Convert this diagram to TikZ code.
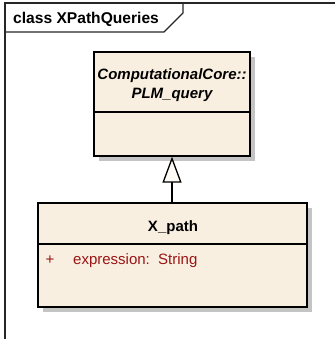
\documentclass[tikz,border=0pt]{standalone}
\usepackage{fontspec}
\setmainfont{Liberation Sans}
\usetikzlibrary{arrows.meta}
\definecolor{classfill}{RGB}{249,239,225}
\definecolor{attrred}{RGB}{153,20,20}
\definecolor{shadowgray}{RGB}{196,196,196}
\begin{document}
\begin{tikzpicture}[x=1bp,y=-1bp,
  txt/.style={inner sep=0pt, font=\fontsize{15bp}{18bp}\selectfont},
  classbox/.style={draw=black, line width=1.3bp, fill=classfill, inner sep=0pt},
  frameline/.style={draw=black!85, line width=1.1bp},
  shadowbox/.style={fill=shadowgray}
]
\useasboundingbox (0,0) rectangle (335,339);
% frame
\draw[frameline] (5,345) -- (5,3) -- (340,3);
\draw[frameline] (5,32) -- (164,32) -- (183,13) -- (183,3);
\node[txt, anchor=base west, font=\fontsize{15.6bp}{18bp}\selectfont\bfseries] (title) at (13,23.3) {class XPathQueries};
% shadows
\fill[shadowbox] (99,57) rectangle (255,161);
\fill[shadowbox] (43,208) rectangle (312,312);
% upper class
\node[classbox, minimum width=156bp, minimum height=104bp] (core) at (172,104) {};
\draw[line width=1.3bp] (94,112) -- (250,112);
\node[txt, anchor=base, font=\fontsize{15bp}{18bp}\selectfont\bfseries\itshape] (coreA) at (172,79.5) {ComputationalCore::};
\node[txt, anchor=base, font=\fontsize{15bp}{18bp}\selectfont\bfseries\itshape] (coreB) at (172,98.3) {PLM\_query};
% lower class
\node[classbox, minimum width=269bp, minimum height=104bp] (xp) at (172.5,255) {};
\draw[line width=1.3bp] (38,244) -- (307,244);
\node[txt, anchor=base, font=\fontsize{15bp}{18bp}\selectfont\bfseries] (xpname) at (173,231) {X\_path};
\node[txt, anchor=base west, text=attrred] (plus) at (45.5,264.3) {+};
\node[txt, anchor=base west, text=attrred] (attr) at (73,264.3) {expression:\ \ String};
% generalization
\draw[line width=1.3bp, -{Triangle[length=26bp, width=19bp, fill=white!70!classfill, line width=1.3bp]}] (xp.north -| core.south) -- (core.south);
\end{tikzpicture}
\end{document}
